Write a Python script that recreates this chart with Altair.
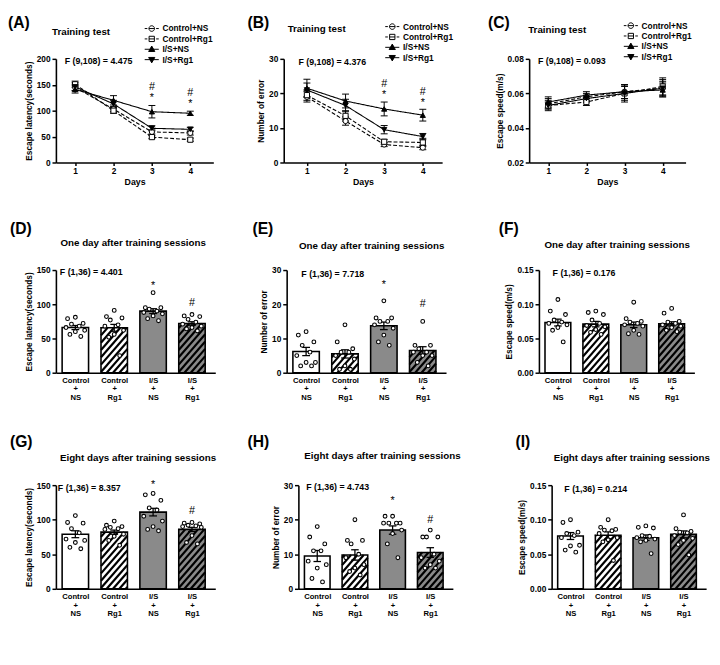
import json
import altair as alt
import pandas as pd

FONT = "Liberation Sans"
GROUPS = ["Control+NS", "Control+Rg1", "I/S+NS", "I/S+Rg1"]
DAYS = [1, 2, 3, 4]
BAR_POS = [1, 2, 3, 4]
BAR_LABELS = [["Control", "+", "NS"], ["Control", "+", "Rg1"], ["I/S", "+", "NS"], ["I/S", "+", "Rg1"]]

# ---------------- (A) Training test: escape latency ----------------
A_MEAN = {"Control+NS": [145, 103, 59, 57], "Control+Rg1": [151, 100, 49, 44],
          "I/S+NS": [141, 120, 98, 95], "I/S+Rg1": [146, 113, 66, 64]}
A_SEM = {"Control+NS": [6, 5, 4, 4], "Control+Rg1": [6, 5, 3, 3],
         "I/S+NS": [7, 9, 12, 4], "I/S+Rg1": [8, 7, 5, 4]}
A_SIG_DAY = [3, 3, 4, 4]
A_SIG_TEXT = ["#", "*", "#", "*"]
A_SIG_Y = [146, 124, 134, 113]

# ---------------- (B) Training test: number of errors ----------------
B_MEAN = {"Control+NS": [19.0, 12.0, 5.2, 4.3], "Control+Rg1": [19.5, 13.5, 6.0, 5.8],
          "I/S+NS": [21.5, 17.8, 15.5, 13.7], "I/S+Rg1": [21.0, 16.5, 9.5, 7.5]}
B_SEM = {"Control+NS": [1.5, 1.2, 0.6, 0.6], "Control+Rg1": [1.5, 1.5, 0.7, 1.2],
         "I/S+NS": [2.6, 2.0, 2.0, 1.7], "I/S+Rg1": [2.0, 1.8, 1.2, 0.9]}
B_SIG_DAY = [3, 3, 4, 4]
B_SIG_TEXT = ["#", "*", "#", "*"]
B_SIG_Y = [22.8, 19.5, 20.4, 17.2]

# ---------------- (C) Training test: escape speed ----------------
C_MEAN = {"Control+NS": [0.054, 0.058, 0.061, 0.063], "Control+Rg1": [0.053, 0.055, 0.060, 0.064],
          "I/S+NS": [0.055, 0.059, 0.061, 0.062], "I/S+Rg1": [0.053, 0.057, 0.060, 0.063]}
C_SEM = {"Control+NS": [0.003, 0.002, 0.004, 0.005], "Control+Rg1": [0.002, 0.002, 0.005, 0.005],
         "I/S+NS": [0.003, 0.002, 0.004, 0.004], "I/S+Rg1": [0.003, 0.002, 0.004, 0.004]}

# ---------------- (D) One day after: escape latency ----------------
D_POINTS = {"Control+NS": [81, 79, 72, 71, 68, 66, 62, 60, 56, 53],
            "Control+Rg1": [91, 82, 80, 77, 70, 68, 62, 56, 52, 25],
            "I/S+NS": [117, 95, 95, 93, 90, 88, 86, 83, 79, 76],
            "I/S+Rg1": [85, 83, 82, 78, 74, 71, 68, 66, 64, 61]}
D_MEAN = [66, 65.6, 90, 72]
D_SEM = [3, 5, 3.5, 2.5]
D_SIG_POS = [3, 4]
D_SIG_TEXT = ["*", "#"]
D_SIG_Y = [127, 102]

# ---------------- (E) One day after: number of errors ----------------
E_POINTS = {"Control+NS": [12, 11, 9, 8, 6, 5, 3, 3, 2, 2],
            "Control+Rg1": [14, 9, 7, 6, 6, 5, 4, 2, 1, 1],
            "I/S+NS": [21, 16, 16, 15, 15, 14, 13, 11, 9, 8],
            "I/S+Rg1": [15, 8, 8, 7, 6, 6, 5, 5, 3, 2]}
E_MEAN = [6.2, 5.5, 13.7, 6.5]
E_SEM = [1.2, 1.2, 1.1, 1.1]
E_SIG_POS = [3, 4]
E_SIG_TEXT = ["*", "#"]
E_SIG_Y = [25.5, 20]

# ---------------- (F) One day after: escape speed ----------------
F_POINTS = {"Control+NS": [0.107, 0.090, 0.085, 0.077, 0.074, 0.072, 0.070, 0.066, 0.062, 0.045],
            "Control+Rg1": [0.090, 0.088, 0.085, 0.077, 0.072, 0.069, 0.067, 0.063, 0.059, 0.056],
            "I/S+NS": [0.103, 0.079, 0.075, 0.074, 0.072, 0.070, 0.068, 0.062, 0.057, 0.056],
            "I/S+Rg1": [0.094, 0.087, 0.075, 0.074, 0.072, 0.070, 0.068, 0.066, 0.062, 0.060]}
F_MEAN = [0.0733, 0.0710, 0.0700, 0.0714]
F_SEM = [0.005, 0.004, 0.004, 0.003]

# ---------------- (G) Eight days after: escape latency ----------------
G_POINTS = {"Control+NS": [106, 96, 95, 87, 81, 72, 70, 67, 60, 58],
            "Control+Rg1": [98, 92, 90, 89, 87, 86, 79, 76, 70, 63],
            "I/S+NS": [138, 136, 128, 117, 114, 105, 98, 90, 86, 84],
            "I/S+Rg1": [96, 95, 94, 92, 91, 90, 89, 77, 67, 65]}
G_MEAN = [79, 82, 111, 86]
G_SEM = [5, 3, 5.5, 3]
G_SIG_POS = [3, 4]
G_SIG_TEXT = ["*", "#"]
G_SIG_Y = [150, 113]

# ---------------- (H) Eight days after: number of errors ----------------
H_POINTS = {"Control+NS": [18, 15, 13, 11, 11, 8, 7, 6, 3, 2],
            "Control+Rg1": [20, 14, 14, 13, 10, 9, 7, 6, 5, 4],
            "I/S+NS": [21, 21, 19, 19, 19, 19, 17, 16, 13, 9],
            "I/S+Rg1": [17, 15, 15, 15, 10, 9, 8, 7, 6, 6]}
H_MEAN = [9.5, 9.8, 17.0, 10.5]
H_SEM = [1.6, 1.5, 1.2, 1.4]
H_SIG_POS = [3, 4]
H_SIG_TEXT = ["*", "#"]
H_SIG_Y = [25.5, 20]

# ---------------- (I) Eight days after: escape speed ----------------
I_POINTS = {"Control+NS": [0.100, 0.096, 0.082, 0.080, 0.077, 0.074, 0.063, 0.062, 0.056, 0.053],
            "Control+Rg1": [0.100, 0.089, 0.086, 0.085, 0.084, 0.080, 0.074, 0.071, 0.068, 0.041],
            "I/S+NS": [0.091, 0.089, 0.088, 0.077, 0.076, 0.074, 0.072, 0.070, 0.068, 0.051],
            "I/S+Rg1": [0.107, 0.087, 0.083, 0.082, 0.081, 0.077, 0.073, 0.070, 0.064, 0.049]}
I_MEAN = [0.0764, 0.0774, 0.0740, 0.0788]
I_SEM = [0.005, 0.005, 0.004, 0.005]

# ---------------- styles ----------------
SHAPES = ["circle", "square", "triangle-up", "triangle-down"]
FILLS = ["white", "white", "black", "black"]
DASHES = [[4, 2], [4, 2], [1, 0], [1, 0]]
BAR_FILLS = ["white", "white", "#8a8a8a", "#8a8a8a"]
HATCHED = [False, True, False, True]
_CIRC = "M-0.95,0A0.95,0.95,0,1,1,0.95,0A0.95,0.95,0,1,1,-0.95,0Z"
_SQ = "M-0.9,-0.9H0.9V0.9H-0.9Z"
_DASH = "M-2.4,0H-1.5M-0.95,0H0.95M1.5,0H2.4"
_SOLID = "M-2.4,0H2.4"
LEG_PATHS = [_DASH + _CIRC, _DASH + _SQ,
             _SOLID + "M0,-1.1L1.05,0.75H-1.05Z", _SOLID + "M0,1.1L1.05,-0.75H-1.05Z"]
LEG_STEP = 10.6
JITTER = [0.0, -0.2, 0.2, -0.1, 0.1, -0.24, 0.24, 0.0, -0.14, 0.14]
HALF = 0.34
HATCH_K = 1.15
HATCH_STEP = 6.5
BAR_XDOM = [0.5, 4.6]


def txt(text, x, y, size, weight="normal", align="left"):
    return alt.Chart(pd.DataFrame({"t": [text]})).mark_text(
        align=align, baseline="middle", font=FONT, fontSize=size,
        fontWeight=weight, color="black"
    ).encode(x=alt.value(x), y=alt.value(y), text="t:N")


def decor(cfg):
    return [
        txt(cfg["letter"], cfg["lx"], cfg["ly"], 16, "bold"),
        txt(cfg["title"], cfg["tx"], cfg["ty"], 10, "bold", cfg["talign"]),
        txt(cfg["ftext"], cfg["fx"], cfg["fy"], 9, "bold"),
    ]


def legend_layers(cx, cy):
    out = []
    for i, g in enumerate(GROUPS):
        y = cy + i * LEG_STEP
        out.append(alt.Chart(pd.DataFrame({"g": [g]})).mark_point(
            shape=LEG_PATHS[i], size=36, filled=True, fill=FILLS[i], stroke="black",
            strokeWidth=1, opacity=1).encode(x=alt.value(cx), y=alt.value(y)))
        out.append(alt.Chart(pd.DataFrame({"g": [g]})).mark_text(
            align="left", baseline="middle", font=FONT, fontSize=8.5, fontWeight="bold",
            color="black").encode(x=alt.value(cx + 11), y=alt.value(y), text="g:N"))
    return out


def line_panel(cfg):
    rows = []
    for gi, g in enumerate(GROUPS):
        for d, m, s in zip(DAYS, cfg["mean"][g], cfg["sem"][g]):
            rows.append({"group": g, "day": d, "mean": m, "sem": s,
                         "shp": SHAPES[gi], "fc": FILLS[gi]})
    df = pd.DataFrame(rows)
    xs = alt.Scale(domain=cfg["xdom"], nice=False, zero=False)
    ys = alt.Scale(domain=cfg["ydom"], nice=False, zero=False)
    xax = alt.Axis(values=DAYS, format="d", title="Days", tickSize=3, labelPadding=1,
                   titlePadding=3, titleFontSize=9, labelFontSize=8.5)
    yax = alt.Axis(values=cfg["yvals"], format=cfg["yfmt"], title=cfg["ytitle"],
                   tickSize=4, labelPadding=2, titlePadding=3)

    def X(f):
        return alt.X(f, scale=xs, axis=xax)

    def Y(f):
        return alt.Y(f, scale=ys, axis=yax)

    base = alt.Chart(df).transform_calculate(
        lo="datum.mean - datum.sem", hi="datum.mean + datum.sem",
        xl="datum.day - 0.09", xr="datum.day + 0.09")
    err = base.mark_rule(color="black", strokeWidth=1).encode(x=X("day:Q"), y=Y("lo:Q"), y2="hi:Q")
    cap_hi = base.mark_rule(color="black", strokeWidth=1).encode(x=X("xl:Q"), x2="xr:Q", y=Y("hi:Q"))
    cap_lo = base.mark_rule(color="black", strokeWidth=1).encode(x=X("xl:Q"), x2="xr:Q", y=Y("lo:Q"))
    line = base.mark_line(color="black", strokeWidth=1.1).encode(
        x=X("day:Q"), y=Y("mean:Q"),
        strokeDash=alt.StrokeDash("group:N", scale=alt.Scale(domain=GROUPS, range=DASHES), legend=None))
    pts = base.mark_point(filled=True, opacity=1, stroke="black", strokeWidth=1, size=28).encode(
        x=X("day:Q"), y=Y("mean:Q"),
        shape=alt.Shape("shp:N", scale=None),
        fill=alt.Fill("fc:N", scale=None))
    layers = [err, cap_hi, cap_lo, line, pts]
    if cfg.get("sig_day"):
        sdf = pd.DataFrame({"day": cfg["sig_day"], "t": cfg["sig_text"], "y": cfg["sig_y"]})
        layers.append(alt.Chart(sdf).mark_text(font=FONT, fontSize=11, color="black", baseline="middle").encode(
            x=X("day:Q"), y=Y("y:Q"), text="t:N"))
    layers += legend_layers(cfg["legx"], cfg["legy"])
    layers += decor(cfg)
    return alt.layer(*layers).properties(width=cfg["w"], height=cfg["h"])


def hatch_rows(pos, top, sx, sy):
    X0, X1 = (pos - HALF) * sx, (pos + HALF) * sx
    Y1 = top * sy
    out = []
    c = -HATCH_K * X1 + 2
    while c < Y1 - HATCH_K * X0:
        xa = max(X0, (0 - c) / HATCH_K)
        xb = min(X1, (Y1 - c) / HATCH_K)
        if xb > xa:
            out.append({"x": xa / sx, "x2": xb / sx,
                        "y": (HATCH_K * xa + c) / sy, "y2": (HATCH_K * xb + c) / sy})
        c += HATCH_K * HATCH_STEP
    return out


def bar_panel(cfg):
    ymax = cfg["ydom"][1]
    bars = pd.DataFrame({"group": GROUPS, "pos": BAR_POS, "mean": cfg["mean"], "sem": cfg["sem"],
                         "fc": BAR_FILLS})
    prow = []
    for i, g in enumerate(GROUPS):
        for j, v in enumerate(sorted(cfg["points"][g], reverse=True)):
            prow.append({"group": g, "x": BAR_POS[i] + JITTER[j % len(JITTER)], "v": v})
    pdf = pd.DataFrame(prow)
    sx = cfg["w"] / (BAR_XDOM[1] - BAR_XDOM[0])
    sy = cfg["h"] / ymax
    hrow = []
    for i, m in enumerate(cfg["mean"]):
        if HATCHED[i]:
            hrow += hatch_rows(BAR_POS[i], m, sx, sy)
    hdf = pd.DataFrame(hrow)

    xs = alt.Scale(domain=BAR_XDOM, nice=False, zero=False)
    ys = alt.Scale(domain=cfg["ydom"], nice=False)
    xax = alt.Axis(values=BAR_POS, labelExpr=json.dumps(BAR_LABELS) + "[datum.value - 1]",
                   ticks=False, title=None, labelPadding=4, labelLineHeight=8.7,
                   labelFontSize=7.8, labelAngle=0)
    yax = alt.Axis(values=cfg["yvals"], format=cfg["yfmt"], title=cfg["ytitle"],
                   tickSize=4, labelPadding=2, titlePadding=3)

    def X(f):
        return alt.X(f, scale=xs, axis=xax)

    def Y(f):
        return alt.Y(f, scale=ys, axis=yax)

    bb = alt.Chart(bars).transform_calculate(
        xl="datum.pos - %g" % HALF, xr="datum.pos + %g" % HALF,
        lo="datum.mean - datum.sem", hi="datum.mean + datum.sem",
        cl="datum.pos - 0.1", cr="datum.pos + 0.1")
    fill = bb.mark_rect(strokeWidth=0).encode(
        x=X("xl:Q"), x2="xr:Q", y=Y("mean:Q"), y2=alt.datum(0),
        fill=alt.Fill("fc:N", scale=None))
    hatch = alt.Chart(hdf).mark_rule(color="black", strokeWidth=2.2).encode(
        x=X("x:Q"), x2="x2:Q", y=Y("y:Q"), y2="y2:Q")
    outline = bb.mark_rect(fill="white", fillOpacity=0, stroke="black", strokeWidth=1.6).encode(
        x=X("xl:Q"), x2="xr:Q", y=Y("mean:Q"), y2=alt.datum(0))
    err = bb.mark_rule(color="black", strokeWidth=1.3).encode(x=X("pos:Q"), y=Y("lo:Q"), y2="hi:Q")
    cap_hi = bb.mark_rule(color="black", strokeWidth=1.3).encode(x=X("cl:Q"), x2="cr:Q", y=Y("hi:Q"))
    cap_lo = bb.mark_rule(color="black", strokeWidth=1.3).encode(x=X("cl:Q"), x2="cr:Q", y=Y("lo:Q"))
    pts = alt.Chart(pdf).mark_point(filled=True, fill="white", stroke="black", strokeWidth=1.1,
                                    size=15, opacity=1).encode(x=X("x:Q"), y=Y("v:Q"))
    layers = [fill, hatch, outline, err, cap_hi, cap_lo, pts]
    if cfg.get("sig_pos"):
        sdf = pd.DataFrame({"pos": cfg["sig_pos"], "t": cfg["sig_text"], "y": cfg["sig_y"]})
        layers.append(alt.Chart(sdf).mark_text(font=FONT, fontSize=11, color="black", baseline="middle").encode(
            x=X("pos:Q"), y=Y("y:Q"), text="t:N"))
    layers += decor(cfg)
    return alt.layer(*layers).properties(width=cfg["w"], height=cfg["h"])


LAT = "Escape latency(seconds)"
ERR = "Number of error"
SPD = "Escape speed(m/s)"
T1 = "Training test"
T2 = "One day after training sessions"
T3 = "Eight days after  training sessions"

pA = line_panel(dict(letter="(A)", lx=-49, ly=-37, title=T1, tx=-4, ty=-27, talign="left",
                     ftext="F (9,108) = 4.475", fx=9, fy=2, mean=A_MEAN, sem=A_SEM,
                     sig_day=A_SIG_DAY, sig_text=A_SIG_TEXT, sig_y=A_SIG_Y,
                     ytitle=LAT, ydom=[0, 200], yvals=[0, 50, 100, 150, 200], yfmt="d",
                     xdom=[0.5, 4.6], w=161, h=106, legx=98, legy=-31))
pB = line_panel(dict(letter="(B)", lx=-37, ly=-37, title=T1, tx=4, ty=-30, talign="left",
                     ftext="F (9,108) = 4.376", fx=15, fy=3, mean=B_MEAN, sem=B_SEM,
                     sig_day=B_SIG_DAY, sig_text=B_SIG_TEXT, sig_y=B_SIG_Y,
                     ytitle=ERR, ydom=[0, 30], yvals=[0, 10, 20, 30], yfmt="d",
                     xdom=[0.4, 4.5], w=162, h=106, legx=111, legy=-33))
pC = line_panel(dict(letter="(C)", lx=-42, ly=-37, title=T1, tx=-1, ty=-29, talign="left",
                     ftext="F (9,108) = 0.093", fx=9, fy=2, mean=C_MEAN, sem=C_SEM,
                     ytitle=SPD, ydom=[0.02, 0.08], yvals=[0.02, 0.04, 0.06, 0.08], yfmt=".2f",
                     xdom=[0.5, 4.6], w=160, h=106, legx=104, legy=-34))

pD = bar_panel(dict(letter="(D)", lx=-47, ly=-42, title=T2, tx=79, ty=-28, talign="center",
                    ftext="F (1,36) = 4.401", fx=4, fy=2, points=D_POINTS, mean=D_MEAN, sem=D_SEM,
                    sig_pos=D_SIG_POS, sig_text=D_SIG_TEXT, sig_y=D_SIG_Y,
                    ytitle=LAT, ydom=[0, 150], yvals=[0, 50, 100, 150], yfmt="d", w=163, h=105))
pE = bar_panel(dict(letter="(E)", lx=-35, ly=-42, title=T2, tx=87, ty=-25, talign="center",
                    ftext="F (1,36) = 7.718", fx=15, fy=4, points=E_POINTS, mean=E_MEAN, sem=E_SEM,
                    sig_pos=E_SIG_POS, sig_text=E_SIG_TEXT, sig_y=E_SIG_Y,
                    ytitle=ERR, ydom=[0, 30], yvals=[0, 10, 20, 30], yfmt="d", w=163, h=105))
pF = bar_panel(dict(letter="(F)", lx=-41, ly=-42, title=T2, tx=80, ty=-26, talign="center",
                    ftext="F (1,36) = 0.176", fx=14, fy=3, points=F_POINTS, mean=F_MEAN, sem=F_SEM,
                    ytitle=SPD, ydom=[0, 0.15], yvals=[0, 0.05, 0.10, 0.15], yfmt=".2f", w=159, h=105))

pG = bar_panel(dict(letter="(G)", lx=-47, ly=-44, title=T3, tx=84, ty=-28, talign="center",
                    ftext="F (1,36) = 8.357", fx=2, fy=3, points=G_POINTS, mean=G_MEAN, sem=G_SEM,
                    sig_pos=G_SIG_POS, sig_text=G_SIG_TEXT, sig_y=G_SIG_Y,
                    ytitle=LAT, ydom=[0, 150], yvals=[0, 50, 100, 150], yfmt="d", w=163, h=106))
pH = bar_panel(dict(letter="(H)", lx=-52, ly=-44, title=T3, tx=86, ty=-30, talign="center",
                    ftext="F (1,36) = 4.743", fx=8, fy=2, points=H_POINTS, mean=H_MEAN, sem=H_SEM,
                    sig_pos=H_SIG_POS, sig_text=H_SIG_TEXT, sig_y=H_SIG_Y,
                    ytitle=ERR, ydom=[0, 30], yvals=[0, 10, 20, 30], yfmt="d", w=158, h=106))
pI = bar_panel(dict(letter="(I)", lx=-37, ly=-44, title=T3, tx=82, ty=-28, talign="center",
                    ftext="F (1,36) = 0.214", fx=13, fy=4, points=I_POINTS, mean=I_MEAN, sem=I_SEM,
                    ytitle=SPD, ydom=[0, 0.15], yvals=[0, 0.05, 0.10, 0.15], yfmt=".2f", w=158, h=106))

row1 = alt.hconcat(alt.hconcat(pA, pB, spacing=35), pC, spacing=35)
row2 = alt.hconcat(alt.hconcat(pD, pE, spacing=38), pF, spacing=54)
row3 = alt.hconcat(alt.hconcat(pG, pH, spacing=30), pI, spacing=54)

chart = alt.vconcat(alt.vconcat(row1, row2, spacing=35), row3, spacing=33).properties(
    padding=0, background="white"
).configure_view(stroke=None).configure_axis(
    domainColor="black", domainWidth=1.6, tickColor="black", tickWidth=1.5,
    labelColor="black", titleColor="black", labelFont=FONT, titleFont=FONT,
    labelFontSize=8.5, labelFontWeight="bold", titleFontSize=8.5, titleFontWeight="bold",
    grid=False
)

chart.save("out.html", embed_options={"renderer": "svg", "actions": False})
